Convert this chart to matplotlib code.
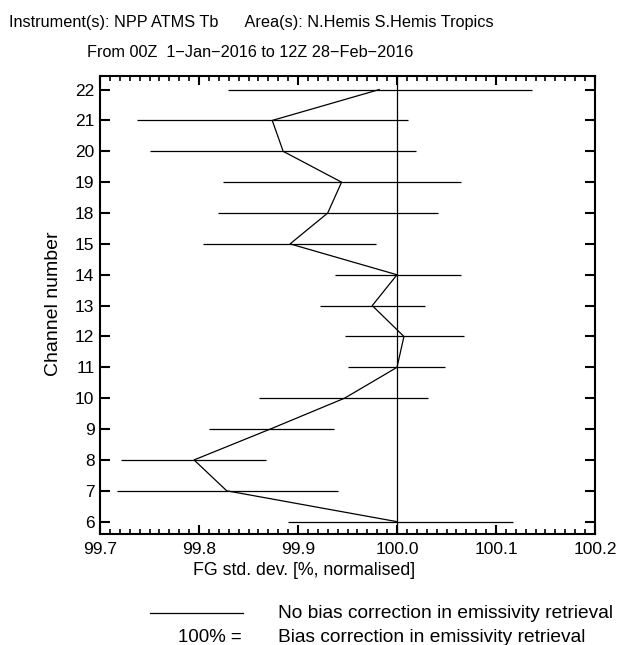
import numpy as np
import matplotlib
matplotlib.use('Agg')
import matplotlib.pyplot as plt
from matplotlib.ticker import MultipleLocator

plt.rcParams['font.family'] = ['Liberation Sans', 'DejaVu Sans']

# kanaly ATMS, od gory do dolu
channels = ['22', '21', '20', '19', '18', '15', '14', '13', '12', '11', '10', '9', '8', '7', '6']
fg_std = [99.982, 99.874, 99.885, 99.944, 99.930, 99.892, 100.000, 99.975,
          100.007, 100.000, 99.947, 99.872, 99.795, 99.828, 100.000]
ci_low = [99.829, 99.737, 99.751, 99.824, 99.819, 99.804, 99.937, 99.922,
          99.947, 99.950, 99.861, 99.810, 99.721, 99.717, 99.890]
ci_high = [100.136, 100.011, 100.019, 100.065, 100.041, 99.979, 100.065, 100.028,
           100.068, 100.048, 100.031, 99.936, 99.868, 99.940, 100.117]

W, H = 621, 645
fig = plt.figure(figsize=(W / 100, H / 100), dpi=100)
ax = fig.add_axes([100 / W, 1 - 534 / H, 495 / W, (534 - 75.7) / H])

y = np.arange(len(channels))[::-1]

ax.hlines(y, ci_low, ci_high, color='black', lw=0.9)
ax.plot(fg_std, y, color='black', lw=0.9)
ax.axvline(100.0, color='black', lw=0.9)

ax.set_xlim(99.7, 100.2)
ax.set_ylim(-0.4, 14.45)
ax.set_yticks(y)
ax.set_yticklabels(channels)
ax.xaxis.set_minor_locator(MultipleLocator(0.01))
ax.set_xticks([99.7, 99.8, 99.9, 100.0, 100.1, 100.2])
ax.set_xticklabels(['99.7', '99.8', '99.9', '100.0', '100.1', '100.2'])

for s in ax.spines.values():
    s.set_linewidth(1.5)
ax.tick_params(axis='both', which='both', direction='in', top=True, right=True,
               labelsize=12.5)
ax.tick_params(axis='x', which='major', length=6.5, width=1.5, pad=6)
ax.tick_params(axis='x', which='minor', length=3.5, width=1.2)
ax.tick_params(axis='y', which='major', length=7, width=1.5, pad=4)

# tytul
fig.text(251 / W, 1 - 27 / H, 'Instrument(s): NPP ATMS Tb      Area(s): N.Hemis S.Hemis Tropics',
         ha='center', va='baseline', fontsize=11.7)
fig.text(250 / W, 1 - 57 / H, 'From 00Z  1\u2212Jan\u22122016 to 12Z 28\u2212Feb\u22122016',
         ha='center', va='baseline', fontsize=11.7)

# opisy osi
fig.text(304 / W, 1 - 575 / H, 'FG std. dev. [%, normalised]', ha='center', va='baseline', fontsize=12.8)
fig.text(53 / W, 1 - 304 / H, 'Channel number', ha='center', va='center', rotation=90, fontsize=14)

# legenda pod wykresem
fig.add_artist(plt.Line2D([150 / W, 243 / W], [1 - 613 / H, 1 - 613 / H],
                          transform=fig.transFigure, color='black', lw=0.9))
fig.text(278 / W, 1 - 618 / H, 'No bias correction in emissivity retrieval',
         ha='left', va='baseline', fontsize=13.8)
fig.text(242 / W, 1 - 642 / H, '100% =', ha='right', va='baseline', fontsize=13.4)
fig.text(278 / W, 1 - 642 / H, 'Bias correction in emissivity retrieval',
         ha='left', va='baseline', fontsize=13.8)

fig.savefig('out.png', dpi=100)
